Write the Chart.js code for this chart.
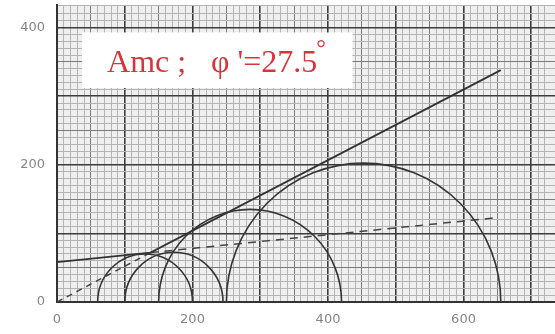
<!DOCTYPE html>
<html>
<head>
<meta charset="utf-8">
<script src="https://cdn.jsdelivr.net/npm/chart.js@4/dist/chart.umd.min.js"></script>
<style>
  html, body { margin: 0; padding: 0; background: #fff; }
  #wrap { width: 555px; height: 334px; }
</style>
</head>
<body>
<div id="wrap"><canvas id="mohrChart"></canvas></div>
<script>
// Mohr circles: minor and major principal stress of each test
const sigma3 = [60, 100, 150, 250];
const sigma1 = [200, 245, 420, 655];

// failure envelope, solid part (c' branch then phi' = 27.5 branch)
const envSolidX = [0, 138, 655];
const envSolidY = [58, 72, 338];
// dashed continuations of the two branches
const dashLowX = [0, 138];
const dashLowY = [0, 72];
const dashHighX = [138, 650];
const dashHighY = [72, 123];

// tick labels
const xLabels = [0, 200, 400, 600];
const yLabels = [0, 200, 400];

const toPts = (xs, ys) => xs.map((v, i) => ({ x: v, y: ys[i] }));

function gridColor(v) {
  v = Math.round(v);
  if (v % 100 === 0) return "#3c3c3c";
  if (v % 50 === 0) return "#7a7a7a";
  return "#b4b4b4";
}
function gridWidth(v) {
  v = Math.round(v);
  if (v % 100 === 0) return 1.6;
  return 1;
}

// paper background
const paperBg = {
  id: "paperBg",
  beforeDraw(chart) {
    const { ctx, chartArea: a } = chart;
    ctx.save();
    ctx.fillStyle = "#efefef";
    ctx.fillRect(a.left, a.top, a.width, a.height);
    ctx.restore();
  },
};

// semicircles drawn through the scales
const mohrCircles = {
  id: "mohrCircles",
  afterDatasetsDraw(chart) {
    const { ctx, chartArea: a, scales: { x, y } } = chart;
    ctx.save();
    ctx.beginPath();
    ctx.rect(a.left, a.top, a.width, a.height);
    ctx.clip();
    ctx.strokeStyle = "#353535";
    ctx.lineWidth = 1.6;
    sigma3.forEach((s3, i) => {
      const c = (s3 + sigma1[i]) / 2;
      const r = (sigma1[i] - s3) / 2;
      const cx = x.getPixelForValue(c);
      const cy = y.getPixelForValue(0);
      const rx = x.getPixelForValue(c + r) - cx;
      const ry = cy - y.getPixelForValue(r);
      ctx.beginPath();
      ctx.ellipse(cx, cy, rx, ry, 0, Math.PI, 2 * Math.PI);
      ctx.stroke();
    });
    ctx.restore();
  },
};

// white note box with the friction angle
const noteBox = { x0: 37, x1: 436, y0: 393, y1: 312 };
const note = {
  id: "note",
  afterDraw(chart) {
    const { ctx, scales: { x, y } } = chart;
    const left = x.getPixelForValue(noteBox.x0);
    const right = x.getPixelForValue(noteBox.x1);
    const top = y.getPixelForValue(noteBox.y0);
    const bottom = y.getPixelForValue(noteBox.y1);
    ctx.save();
    ctx.fillStyle = "#ffffff";
    ctx.fillRect(left, top, right - left, bottom - top);
    ctx.fillStyle = "#d8343a";
    ctx.textBaseline = "alphabetic";
    ctx.font = "32px 'Liberation Serif', serif";
    ctx.fillText("Amc ;", left + 25, top + 40);
    ctx.fillText("\u03C6 '=27.5", left + 129, top + 40);
    const w = ctx.measureText("\u03C6 '=27.5").width;
    ctx.font = "24px 'Liberation Serif', serif";
    ctx.fillText("\u00B0", left + 129 + w - 1, top + 24);
    ctx.restore();
  },
};

const tickFont = { family: "'DejaVu Sans', sans-serif", size: 13 };

new Chart(document.getElementById("mohrChart").getContext("2d"), {
  type: "scatter",
  data: {
    datasets: [
      {
        data: toPts(envSolidX, envSolidY),
        showLine: true,
        borderColor: "#333333",
        borderWidth: 1.8,
        pointRadius: 0,
      },
      {
        data: toPts(dashLowX, dashLowY),
        showLine: true,
        borderColor: "#444444",
        borderWidth: 1.5,
        borderDash: [6, 5],
        pointRadius: 0,
      },
      {
        data: toPts(dashHighX, dashHighY),
        showLine: true,
        borderColor: "#444444",
        borderWidth: 1.5,
        borderDash: [8, 6],
        pointRadius: 0,
      },
    ],
  },
  options: {
    responsive: true,
    maintainAspectRatio: false,
    animation: false,
    layout: { padding: { top: 5, right: 0, left: 0, bottom: 0 } },
    plugins: {
      legend: { display: false },
      tooltip: { enabled: false },
    },
    scales: {
      x: {
        type: "linear",
        min: 0,
        max: 735,
        grid: {
          color: (c) => gridColor(c.tick.value),
          lineWidth: (c) => gridWidth(c.tick.value),
          drawTicks: false,
        },
        border: { display: true, color: "#333", width: 2 },
        ticks: {
          stepSize: 10,
          autoSkip: false,
          maxRotation: 0,
          maxTicksLimit: 200,
          padding: 10,
          color: "#858585",
          font: tickFont,
          callback: (v) => (xLabels.includes(Math.round(v)) ? Math.round(v) : ""),
        },
        afterFit: (s) => {
          s.height = 32;
          s.paddingLeft = 0;
          s.paddingRight = 0;
        },
      },
      y: {
        type: "linear",
        min: 0,
        max: 433,
        grid: {
          color: (c) => gridColor(c.tick.value),
          lineWidth: (c) => gridWidth(c.tick.value),
          drawTicks: false,
        },
        border: { display: true, color: "#333", width: 2 },
        ticks: {
          stepSize: 10,
          autoSkip: false,
          maxTicksLimit: 200,
          padding: 12,
          color: "#858585",
          font: tickFont,
          callback: (v) => (yLabels.includes(Math.round(v)) ? Math.round(v) : ""),
        },
        afterFit: (s) => {
          s.width = 57;
          s.paddingTop = 0;
          s.paddingBottom = 0;
        },
      },
    },
  },
  plugins: [paperBg, mohrCircles, note],
});
</script>
</body>
</html>
